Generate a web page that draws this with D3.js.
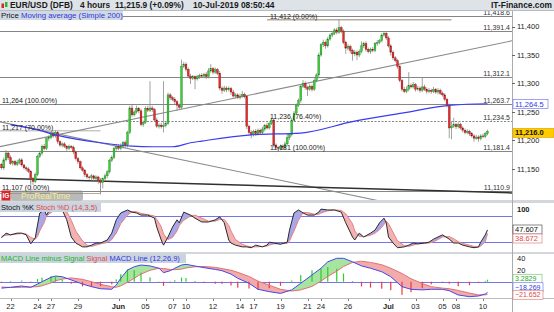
<!DOCTYPE html>
<html>
<head>
<meta charset="utf-8">
<script src="https://cdn.jsdelivr.net/npm/d3@7"></script>
<style>
body { margin: 0; background: #fff; }
svg { display: block; font-family: "Liberation Sans", Arial, sans-serif; }
</style>
</head>
<body>
<div id="vis"></div>
<script>
// 4 hour candles, EUR/USD (DFB), index 0 = 21 May 08:00 ... 216 = 10 Jul 08:00
var firstOpen = 11158;
var closes = [
  11152, 11166, 11178, 11170, 11160, 11163, 11158, 11162, 11166, 11157,
  11152, 11150, 11146, 11133, 11128, 11140, 11172, 11178, 11190, 11186,
  11203, 11205, 11212, 11208, 11214, 11198, 11192, 11194, 11190, 11186,
  11190, 11188, 11180, 11168, 11163, 11152, 11148, 11140, 11136, 11135,
  11138, 11133, 11136, 11130, 11126, 11133, 11138, 11145, 11165, 11170,
  11186, 11190, 11186, 11190, 11196, 11192, 11214, 11257, 11245, 11250,
  11256, 11252, 11228, 11232, 11256, 11253, 11257, 11254, 11236, 11225,
  11227, 11224, 11226, 11230, 11280, 11275, 11272, 11268, 11262, 11258,
  11330, 11334, 11325, 11313, 11309, 11312, 11308, 11312, 11314, 11313,
  11316, 11312, 11322, 11326, 11320, 11324, 11318, 11292, 11288, 11292,
  11289, 11291, 11285, 11278, 11280, 11276, 11278, 11281, 11277, 11225,
  11214, 11210, 11216, 11212, 11218, 11214, 11220, 11226, 11222, 11230,
  11236, 11192, 11188, 11186, 11190, 11188, 11194, 11205, 11210, 11236,
  11248, 11262, 11270, 11295, 11300, 11293, 11290, 11295, 11290, 11305,
  11315, 11350, 11368, 11372, 11366, 11378, 11385, 11388, 11394, 11390,
  11398, 11392, 11372, 11362, 11365, 11358, 11352, 11355, 11350, 11356,
  11366, 11370, 11360, 11356, 11360, 11358, 11370, 11372, 11375, 11385,
  11388, 11380, 11366, 11355, 11345, 11340, 11330, 11305, 11290, 11286,
  11290, 11296, 11294, 11298, 11290, 11292, 11288, 11294, 11290, 11286,
  11288, 11286, 11289, 11285, 11288, 11283, 11280, 11272, 11262, 11222,
  11225, 11228, 11224, 11228, 11222, 11218, 11214, 11216, 11212, 11208,
  11204, 11206, 11203, 11208, 11207, 11212, 11216
];
var upWick = [
  3,4,5,3,4,2,3,4,3,3,  2,3,3,2,3,4,3,4,3,4,  3,4,3,3,4,3,2,3,3,2,  3,2,3,2,3,2,3,2,3,2,
  3,2,3,2,3,2,4,3,3,4,  3,4,3,5,3,4,3,4,6,3,  5,3,4,3,4,5,47,4,3,4, 3,4,78,3,4,3,3,4,3,3,
  12,4,3,3,4,3,2,3,3,4, 3,4,5,8,3,4,3,4,3,4,  3,4,3,4,3,3,4,6,3,3,  3,4,3,4,3,3,4,3,5,3,
  4,3,3,2,3,3,4,8,3,4,  4,3,4,3,6,4,3,4,3,4,  3,4,3,5,3,4,3,4,3,4,  14,3,3,3,4,3,3,4,3,4,
  8,3,4,3,3,4,3,4,3,3,  4,3,3,3,3,3,3,3,3,4,  5,24,4,5,3,4,3,16,4,3, 4,3,5,3,4,3,3,3,3,3,
  8,12,3,4,3,3,3,4,3,3, 3,4,3,3,4,3,3
];
var dnWick = [
  3,4,3,4,3,4,3,3,4,3,  3,4,3,8,6,3,3,3,4,3,  3,4,3,3,3,4,3,4,3,4,  3,3,4,3,4,3,3,4,3,4,
  5,4,3,6,19,10,3,4,3,3, 3,4,3,3,4,5,4,3,4,3, 3,4,3,4,3,3,3,4,3,3,  4,3,10,3,3,4,3,4,10,3,
  3,3,4,3,10,3,18,3,4,3, 3,4,3,3,4,3,3,4,6,3, 4,3,5,3,4,3,4,3,3,5,  4,6,3,4,3,4,3,4,3,3,
  3,4,3,5,3,4,3,3,4,3,  3,4,3,4,3,4,12,3,4,3, 3,6,3,4,5,3,3,4,3,4,  3,4,3,10,4,5,12,4,9,4,
  3,4,4,3,4,3,3,4,3,3,  3,4,3,6,4,3,4,3,4,3,  3,4,3,3,4,3,4,3,3,4,  3,4,3,3,4,3,3,3,4,18,
  20,3,4,3,3,4,3,3,4,3, 6,3,5,3,3,3,3
];

// simple moving average 200
var maIdx = [4, 15, 24, 44, 58, 67, 76, 84, 89, 111, 133, 156, 178, 200, 216];
var maVal = [11228, 11220, 11210, 11196, 11190, 11189, 11189, 11196, 11199, 11210, 11213, 11233, 11248, 11262, 11264.5];

// horizontal levels and their right labels
var levelVals = [11418.6, 11391.4, 11312.1, 11263.7, 11234.5, 11181.4, 11110.9];
var priceTicks = [11400, 11350, 11300, 11250, 11200, 11150];
var lastPrice = 11216.0;
var lastMA = 11264.5;

// trend lines [candle index, price]
var trendUp = [[-1, 11189], [227, 11375]];
var trendDown = [[-1, 11233], [174, 11089]];
var trendFlat = [[-1, 11134], [227, 11108]];

// fibonacci drawings
var fibLeftSpan = [-1, 44];
var fibLeftVals = [11107, 11217, 11264];
var fibLeftText = ['11,107 (0.00%)', '11,217 (70.00%)', '11,264 (100.00%)'];
var fibRightSpan = [118, 200];
var fibRightVals = [11412, 11236, 11181];
var fibRightText = ['11,412 (0.00%)', '11,236 (76.40%)', '11,181 (100.00%)'];

// stochastic
var stochIdx = [0,2,4,7,9,11,13,15,16,17,19,20,22,24,27,29,31,33,36,38,40,42,44,47,49,51,53,56,58,60,62,65,68,69,71,72,74,76,78,79,81,84,86,89,92,95,97,99,101,102,104,107,109,111,113,116,118,119,121,124,127,128,130,132,134,136,139,141,142,145,148,151,153,156,157,159,161,164,166,168,170,171,172,174,176,179,181,183,185,188,190,192,194,196,199,201,203,205,208,210,212,213,215,216];
var stochK = [29,40,36,40,40,36,15,29,59,87,94,82,100,100,94,71,31,17,8,8,12,17,17,24,40,71,87,94,89,87,82,82,75,54,24,12,31,54,71,64,89,82,75,66,66,71,78,64,24,17,12,8,8,6,12,8,12,19,17,14,19,47,87,94,87,82,82,89,96,94,94,89,64,31,24,40,31,40,47,64,75,64,31,17,6,8,12,17,15,17,19,26,31,36,26,17,17,12,8,6,8,19,36,47.607];
var stochD = [33,35,36,38,39,38,30,26,32,45,65,80,88,95,98,90,70,45,22,12,9,12,15,18,25,40,62,82,90,90,86,83,80,72,55,38,25,30,45,58,70,80,82,75,68,68,72,72,58,45,25,14,10,8,8,9,10,12,15,16,16,22,45,70,88,88,84,84,87,92,94,93,85,62,45,32,32,35,40,48,60,68,62,42,22,11,9,12,15,16,17,20,25,31,32,27,20,16,12,9,7,10,20,38.672];
var stochLevels = [80, 20];

// MACD (12,26,9)
var macdIdx = [0,4,9,13,16,18,22,24,27,31,36,40,44,49,51,53,56,59,62,66,70,72,75,77,80,82,86,90,95,98,102,105,110,114,119,124,129,133,138,142,145,149,152,156,160,164,169,173,178,182,187,191,196,199,203,208,212,215,216];
var macdLine = [-11,-9.5,-7.4,-9.6,-4,0,7.5,9.7,8.5,3,-4,-8.5,-12,-13,-5.6,5.8,20,25.6,28.5,27,23,15.4,18.8,23,28.5,29.7,26.8,24,21,18.8,13,5.8,-2.7,-13,-17,-20,-14,-2.7,11.5,23,34,40,40,34,27,23,17,8.5,-8.5,-13,-14,-13,-13,-15.4,-22.7,-25.6,-24.4,-21,-18.269];
var macdSignal = [-9,-10,-9.5,-9,-8.5,-7,-2,1.5,4.5,6.5,4,0,-4.5,-8.5,-9.5,-7,-1,6,13,19.5,23,22.5,21,20.5,21.5,23.5,25.5,26,24.5,22.5,19.5,16,9,1,-6,-13,-16,-14,-8,1,9,18,26,33,35,33,29,23,14,5,-3,-8.5,-11,-12,-15,-19.5,-22.5,-22.5,-21.652];
var macdHistLast = 3.2829;
var macdTicks = [40, 20];

// x axis
var dayLabels = ['22','24','27','29','Jun','05','07','10','12','14','17','19','21','24','26','Jul','03','05','08','10'];
var dayIdx = [4,16,22,34,52,64,76,82,94,106,112,124,136,142,154,172,184,196,202,214];

var W = 554, H = 312, PR = 512;
var svg = d3.select('#vis').append('svg').attr('width', W).attr('height', H);
var defs = svg.append('defs');

var x = d3.scaleLinear().domain([0, 227]).range([1.5, 512.25]);
var yP = d3.scaleLinear().domain([11095.6, 11427.2]).range([200, 11]);
var yS = d3.scaleLinear().domain([0, 100]).range([250.3, 207.4]);
var yM = d3.scaleLinear().domain([0, 40]).range([281.7, 258.3]);

function clip(id, y0, y1) {
    defs.append('clipPath').attr('id', id).append('rect')
        .attr('x', 0).attr('y', y0).attr('width', PR).attr('height', y1 - y0);
}
clip('cp', 11, 200);
clip('cs', 203, 252);
clip('cm', 254, 298);

/* ****** panel frame ****** */
svg.append('rect').attr('x', 0).attr('y', 200).attr('width', W).attr('height', 3).attr('fill', '#d3d7db');
svg.append('rect').attr('x', 0).attr('y', 252).attr('width', W).attr('height', 2).attr('fill', '#d3d7db');
svg.append('line').attr('x1', 0).attr('x2', W).attr('y1', 298.5).attr('y2', 298.5).attr('stroke', '#b8bcc0');
svg.append('line').attr('x1', PR + 0.5).attr('x2', PR + 0.5).attr('y1', 10).attr('y2', 312).attr('stroke', '#a8acb0');

/* ****** Price panel ****** */
var gP = svg.append('g').attr('clip-path', 'url(#cp)');
var lineP = d3.line().x(function(d) { return x(d[0]); }).y(function(d) { return yP(d[1]); });

gP.selectAll('line.lvl').data(levelVals).enter().append('line')
    .attr('x1', 0).attr('x2', PR)
    .attr('y1', function(d) { return Math.round(yP(d)) + 0.5; })
    .attr('y2', function(d) { return Math.round(yP(d)) + 0.5; })
    .attr('stroke', '#858585')
    .attr('stroke-dasharray', function(d, i) { return i == 4 ? '2,1.5' : null; });

// fib drawings
gP.append('line')
    .attr('x1', x(fibRightSpan[0])).attr('x2', x(fibRightSpan[1]))
    .attr('y1', yP(fibRightVals[0])).attr('y2', yP(fibRightVals[0]))
    .attr('stroke', '#b9ab9b').attr('stroke-width', 1.5);
gP.append('line')
    .attr('x1', x(fibLeftSpan[0])).attr('x2', x(fibLeftSpan[1]))
    .attr('y1', yP(fibLeftVals[0])).attr('y2', yP(fibLeftVals[0]))
    .attr('stroke', '#b9ab9b').attr('stroke-width', 1.2);
gP.append('line')
    .attr('x1', x(fibLeftSpan[0])).attr('x2', x(fibLeftSpan[1]))
    .attr('y1', yP(fibLeftVals[1])).attr('y2', yP(fibLeftVals[1]))
    .attr('stroke', '#9a9a9a').attr('stroke-width', 0.8);
[fibLeftSpan[1], 13].forEach(function(i) {
    gP.append('line').attr('x1', x(i)).attr('x2', x(i))
        .attr('y1', yP(11134)).attr('y2', yP(fibLeftVals[0]) + 1)
        .attr('stroke', '#9a9a9a').attr('stroke-width', 0.8);
});

gP.append('path').attr('d', lineP(trendUp)).attr('fill', 'none').attr('stroke', '#8a8a8a').attr('stroke-width', 1.1);
gP.append('path').attr('d', lineP(trendDown)).attr('fill', 'none').attr('stroke', '#8a8a8a').attr('stroke-width', 1.1);
gP.append('path').attr('d', lineP(trendFlat)).attr('fill', 'none').attr('stroke', '#303030').attr('stroke-width', 1.5);

// candles
var candles = closes.map(function(c, i) {
    var o = i ? closes[i - 1] : firstOpen;
    return { i: i, o: o, c: c, h: Math.max(o, c) + upWick[i], l: Math.min(o, c) - dnWick[i] };
});
gP.selectAll('line.wick').data(candles).enter().append('line')
    .attr('x1', function(d) { return x(d.i); })
    .attr('x2', function(d) { return x(d.i); })
    .attr('y1', function(d) { return yP(d.h); })
    .attr('y2', function(d) { return yP(d.l); })
    .attr('stroke', '#8c8c8c').attr('stroke-width', 0.8);
gP.selectAll('rect.body').data(candles).enter().append('rect')
    .attr('x', function(d) { return x(d.i) - 0.9; })
    .attr('width', 1.8)
    .attr('y', function(d) { return yP(Math.max(d.o, d.c)); })
    .attr('height', function(d) { return Math.max(0.8, Math.abs(yP(d.o) - yP(d.c))); })
    .attr('fill', function(d) { return d.c >= d.o ? '#35d035' : '#e52a2a'; })
    .attr('stroke', function(d) { return d.c >= d.o ? '#1f6f1f' : '#7a1212'; })
    .attr('stroke-width', 0.35);

// moving average
var maPts = maIdx.map(function(d, i) { return [d, maVal[i]]; });
gP.append('path').attr('d', lineP.curve(d3.curveMonotoneX)(maPts))
    .attr('fill', 'none').attr('stroke', '#3b3bf0').attr('stroke-width', 1.2);
lineP.curve(d3.curveLinear);

// level labels
gP.selectAll('text.lvl').data(levelVals).enter().append('text')
    .attr('x', 510).attr('y', function(d) { return yP(d) - 1; })
    .attr('text-anchor', 'end').attr('font-size', 7).attr('fill', '#333')
    .text(function(d) { return d3.format(',.1f')(d); });

gP.selectAll('text.fibl').data(fibLeftVals).enter().append('text')
    .attr('x', 2).attr('y', function(d, i) { return yP(d) - (i == 0 ? 3.5 : 1); })
    .attr('font-size', 7).attr('fill', '#222')
    .text(function(d, i) { return fibLeftText[i]; });
gP.selectAll('text.fibr').data(fibRightVals).enter().append('text')
    .attr('x', 270).attr('y', function(d) { return yP(d) - 1; })
    .attr('font-size', 7).attr('fill', '#222')
    .text(function(d, i) { return fibRightText[i]; });

// ProRealTime logo
svg.append('rect').attr('x', 1.5).attr('y', 190.5).attr('width', 9).attr('height', 10).attr('fill', '#d8262a');
svg.append('text').attr('x', 6).attr('y', 198.3).attr('text-anchor', 'middle')
    .attr('font-size', 6.5).attr('font-weight', 'bold').attr('fill', '#fff').text('IG');
svg.append('rect').attr('x', 11).attr('y', 190.5).attr('width', 72).attr('height', 10).attr('rx', 2)
    .attr('fill', '#8a8a8a').attr('opacity', 0.6);
svg.append('text').attr('x', 21).attr('y', 198.8).attr('font-size', 8.5).attr('fill', '#f3ee8c').text('ProRealTime');

// price legend
svg.append('rect').attr('x', 0).attr('y', 11).attr('width', 123).attr('height', 9).attr('fill', '#cfd9e3');
var lg = svg.append('text').attr('x', 1).attr('y', 18.3).attr('font-size', 7.8);
lg.append('tspan').attr('fill', '#111').text('Price ');
lg.append('tspan').attr('fill', '#3434d8').text('Moving average (Simple 200)');

// price axis
svg.selectAll('text.pt').data(priceTicks).enter().append('text')
    .attr('x', 517).attr('y', function(d) { return yP(d) + 2.6; })
    .attr('font-size', 7.5).attr('fill', '#222')
    .text(function(d) { return d3.format(',')(d); });
svg.selectAll('line.pt').data(priceTicks).enter().append('line')
    .attr('x1', PR).attr('x2', PR + 3)
    .attr('y1', function(d) { return Math.round(yP(d)) + 0.5; })
    .attr('y2', function(d) { return Math.round(yP(d)) + 0.5; })
    .attr('stroke', '#666');

function valueBox(v, txt, cy, fill, stroke, color, bold, w, fs) {
    svg.append('rect').attr('x', 513).attr('y', cy - 4.5).attr('width', w).attr('height', 9)
        .attr('fill', fill).attr('stroke', stroke).attr('stroke-width', 0.7);
    svg.append('text').attr('x', 515).attr('y', cy + 2.6).attr('font-size', fs || 7.5)
        .attr('font-weight', bold ? 'bold' : 'normal').attr('fill', color).text(txt);
}
valueBox(lastMA, d3.format(',.1f')(lastMA), yP(lastMA) + 0.3, '#fff', '#7a7aff', '#3434e0', false, 35);
valueBox(lastPrice, d3.format(',.1f')(lastPrice), yP(lastPrice) + 1.5, '#ffcc00', '#e0a800', '#111', true, 41);

/* ****** Stochastic panel ****** */
var gS = svg.append('g').attr('clip-path', 'url(#cs)');
var sData = stochIdx.map(function(d, i) { return { i: d, k: stochK[i], d: stochD[i] }; });

gS.selectAll('line.lev').data(stochLevels).enter().append('line')
    .attr('x1', 0).attr('x2', PR)
    .attr('y1', function(d) { return Math.round(yS(d)) + 0.5; })
    .attr('y2', function(d) { return Math.round(yS(d)) + 0.5; })
    .attr('stroke', '#7474ee');

defs.append('clipPath').attr('id', 'sAbove').append('path')
    .attr('d', d3.area().x(function(d) { return x(d.i); }).y0(203).y1(function(d) { return yS(d.d); })(sData));
defs.append('clipPath').attr('id', 'sBelow').append('path')
    .attr('d', d3.area().x(function(d) { return x(d.i); }).y0(252).y1(function(d) { return yS(d.d); })(sData));
var kdArea = d3.area().x(function(d) { return x(d.i); })
    .y0(function(d) { return yS(d.d); }).y1(function(d) { return yS(d.k); });
gS.append('g').attr('clip-path', 'url(#sAbove)').append('path').attr('d', kdArea(sData)).attr('fill', '#a7a7ea');
gS.append('g').attr('clip-path', 'url(#sBelow)').append('path').attr('d', kdArea(sData)).attr('fill', '#f2b2b2');
gS.append('path').attr('d', d3.line().x(function(d) { return x(d.i); }).y(function(d) { return yS(d.d); })(sData))
    .attr('fill', 'none').attr('stroke', '#e58080').attr('stroke-width', 1);
gS.append('path').attr('d', d3.line().x(function(d) { return x(d.i); }).y(function(d) { return yS(d.k); })(sData))
    .attr('fill', 'none').attr('stroke', '#2a2a2a').attr('stroke-width', 1);

svg.append('rect').attr('x', 0).attr('y', 203).attr('width', 101).attr('height', 9).attr('fill', '#c9d4df');
var ls = svg.append('text').attr('x', 1).attr('y', 210.3).attr('font-size', 7.5);
ls.append('tspan').attr('fill', '#111').text('Stoch %K ');
ls.append('tspan').attr('fill', '#e04848').text('Stoch %D (14,3,5)');

svg.append('text').attr('x', 517).attr('y', yS(100) + 4.5).attr('font-size', 7.5).attr('font-weight', 'bold')
    .attr('fill', '#222').text('100');
valueBox(stochK[stochK.length - 1], d3.format('.3f')(stochK[stochK.length - 1]), 229.5, '#fff', '#555', '#111', false, 29);
valueBox(stochD[stochD.length - 1], d3.format('.3f')(stochD[stochD.length - 1]), 238.5, '#fff', '#e08080', '#e04848', false, 29);

/* ****** MACD panel ****** */
var gM = svg.append('g').attr('clip-path', 'url(#cm)');
var mData = macdIdx.map(function(d, i) { return { i: d, m: macdLine[i], s: macdSignal[i] }; });

gM.append('line').attr('x1', 0).attr('x2', PR)
    .attr('y1', Math.round(yM(0)) + 0.5).attr('y2', Math.round(yM(0)) + 0.5).attr('stroke', '#7474ee');

defs.append('clipPath').attr('id', 'mAbove').append('path')
    .attr('d', d3.area().x(function(d) { return x(d.i); }).y0(254).y1(function(d) { return yM(d.s); })(mData));
defs.append('clipPath').attr('id', 'mBelow').append('path')
    .attr('d', d3.area().x(function(d) { return x(d.i); }).y0(298).y1(function(d) { return yM(d.s); })(mData));
var msArea = d3.area().x(function(d) { return x(d.i); })
    .y0(function(d) { return yM(d.s); }).y1(function(d) { return yM(d.m); });
gM.append('g').attr('clip-path', 'url(#mAbove)').append('path').attr('d', msArea(mData)).attr('fill', '#a6e4a0');
gM.append('g').attr('clip-path', 'url(#mBelow)').append('path').attr('d', msArea(mData)).attr('fill', '#f2aaaa');

gM.selectAll('rect.hist').data(mData).enter().append('rect')
    .attr('x', function(d) { return x(d.i) - 0.6; })
    .attr('width', 1.2)
    .attr('y', function(d) { return Math.min(yM(0), yM(d.m - d.s)); })
    .attr('height', function(d) { return Math.max(0.8, Math.abs(yM(d.m - d.s) - yM(0))); })
    .attr('fill', function(d) { return d.m >= d.s ? '#2ccc2c' : '#ee3a3a'; });

gM.append('path').attr('d', d3.line().x(function(d) { return x(d.i); }).y(function(d) { return yM(d.s); })(mData))
    .attr('fill', 'none').attr('stroke', '#e27070').attr('stroke-width', 1);
gM.append('path').attr('d', d3.line().x(function(d) { return x(d.i); }).y(function(d) { return yM(d.m); })(mData))
    .attr('fill', 'none').attr('stroke', '#4646ee').attr('stroke-width', 1);

svg.append('rect').attr('x', 0).attr('y', 254).attr('width', 186).attr('height', 9).attr('fill', '#c9d4df');
var lm = svg.append('text').attr('x', 1).attr('y', 261.3).attr('font-size', 7.5);
lm.append('tspan').attr('fill', '#22b522').text('MACD Line minus Signal ');
lm.append('tspan').attr('fill', '#e04848').text('Signal ');
lm.append('tspan').attr('fill', '#3434e0').text('MACD Line (12,26,9)');

svg.selectAll('text.mt').data(macdTicks).enter().append('text')
    .attr('x', 517).attr('y', function(d) { return yM(d) + 2.6; })
    .attr('font-size', 7.5).attr('fill', '#222').text(function(d) { return d; });
valueBox(macdHistLast, d3.format('.4f')(macdHistLast), 278.8, '#fff', '#7acc7a', '#22aa22', false, 29, 7);
valueBox(macdLine[macdLine.length - 1], d3.format('.3f')(macdLine[macdLine.length - 1]), 287.2, '#fff', '#7a7aff', '#3434e0', false, 30, 7);
valueBox(macdSignal[macdSignal.length - 1], d3.format('.3f')(macdSignal[macdSignal.length - 1]), 294.8, '#fff', '#e08080', '#e04848', false, 30, 7);

/* ****** X axis ****** */
svg.selectAll('line.xt').data(dayIdx).enter().append('line')
    .attr('x1', function(d) { return Math.round(x(d)) + 0.5; })
    .attr('x2', function(d) { return Math.round(x(d)) + 0.5; })
    .attr('y1', 299).attr('y2', 301).attr('stroke', '#777');
svg.selectAll('text.xt').data(dayIdx).enter().append('text')
    .attr('x', function(d) { return x(d); })
    .attr('y', 309)
    .attr('text-anchor', 'middle').attr('font-size', 7.5).attr('fill', '#222')
    .attr('font-weight', function(d, i) { return (dayLabels[i] == 'Jun' || dayLabels[i] == 'Jul') ? 'bold' : 'normal'; })
    .text(function(d, i) { return dayLabels[i]; });

/* ****** Title bar ****** */
svg.append('rect').attr('x', 0).attr('y', 0).attr('width', W).attr('height', 10).attr('fill', '#dee3e8');
svg.append('line').attr('x1', 0).attr('x2', W).attr('y1', 10.5).attr('y2', 10.5).attr('stroke', '#b5bcc3');
svg.append('rect').attr('x', 1.5).attr('y', 3.5).attr('width', 2.5).attr('height', 4.5).attr('fill', '#d8262a');
svg.append('rect').attr('x', 5).attr('y', 2).attr('width', 2.5).attr('height', 5).attr('fill', '#2cb82c');
var tt = svg.append('text').attr('y', 8.2).attr('font-size', 8.4).attr('font-weight', 'bold').attr('fill', '#1a1a1a');
tt.append('tspan').attr('x', 10).text('EUR/USD (DFB)');
tt.append('tspan').attr('x', 80).text('4 hours');
tt.append('tspan').attr('x', 115).text('11,215.9 (+0.09%)');
tt.append('tspan').attr('x', 193).text('10-Jul-2019 08:50:44');
svg.append('text').attr('x', 552).attr('y', 8.2).attr('text-anchor', 'end')
    .attr('font-size', 8.4).attr('font-weight', 'bold').attr('fill', '#1a1a1a').text('IT-Finance.com');
</script>
</body>
</html>
